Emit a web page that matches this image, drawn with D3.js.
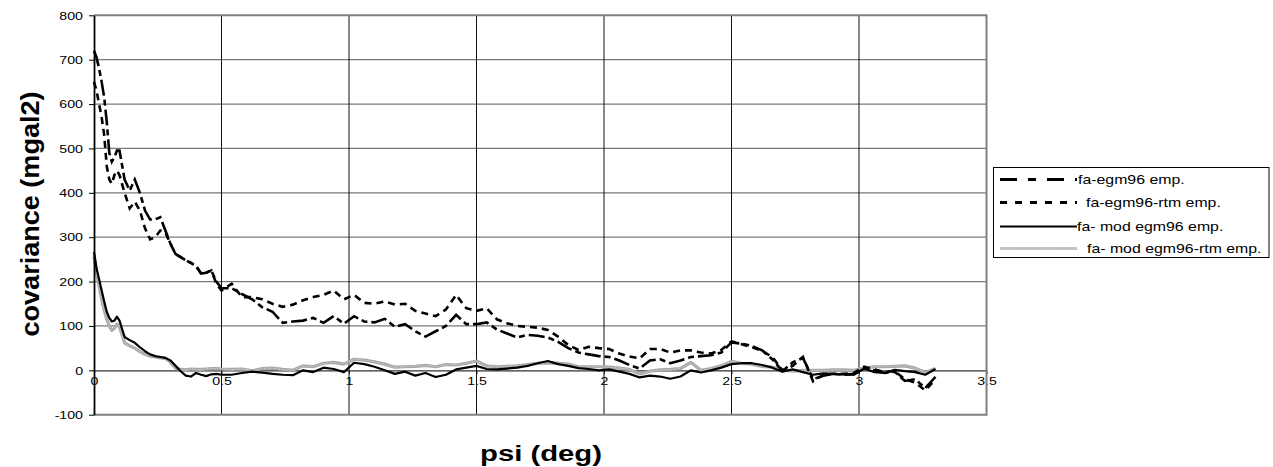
<!DOCTYPE html>
<html><head><meta charset="utf-8">
<script src="https://cdn.jsdelivr.net/npm/d3@7"></script>
<style>html,body{margin:0;padding:0;background:#fff;}svg{display:block;}</style>
</head><body>
<script>
// ---------- data ----------
const psi = [0,0.01,0.02,0.03,0.04,0.05,0.06,0.07,0.08,0.09,
  0.10,0.12,0.14,0.16,0.18,0.20,0.22,0.24,0.26,0.28,0.30,0.32,0.34,0.36,0.38,0.40,0.42,0.44,0.46,0.48,0.50,
  0.54,0.58,0.62,0.66,0.70,0.74,0.78,0.82,0.86,0.90,0.94,0.98,
  1.02,1.06,1.10,1.14,1.18,1.22,1.26,1.30,1.34,1.38,1.42,1.46,1.50,
  1.54,1.58,1.62,1.66,1.70,1.74,1.78,1.82,1.86,1.90,1.94,1.98,
  2.02,2.06,2.10,2.14,2.18,2.22,2.26,2.30,2.34,2.38,2.42,2.46,2.50,
  2.54,2.58,2.62,2.66,2.70,2.74,2.78,2.82,2.86,2.90,2.94,2.98,
  3.02,3.06,3.10,3.14,3.18,3.22,3.26,3.30];

const faEgm96 = [720,705,680,650,615,560,490,470,480,495,
  495,430,405,430,400,360,340,340,345,315,285,262,255,248,242,235,218,220,225,200,185,
  185,172,160,142,132,107,110,112,118,107,122,105,
  122,110,108,116,98,104,88,76,88,100,125,104,104,
  108,92,83,74,80,78,74,64,50,40,36,32,
  30,22,12,4,22,25,16,22,30,32,34,40,63,
  60,55,45,25,-2,18,28,-20,-12,-8,-10,-8,
  5,0,-6,-3,-24,-20,-40,-15];

const faEgm96Rtm = [650,630,600,570,530,460,430,420,440,450,
  440,400,365,380,360,320,295,300,315,310,285,262,255,248,242,235,218,220,225,195,180,
  195,165,165,160,150,143,148,158,165,170,180,160,
  170,152,150,155,148,150,134,128,122,137,170,140,134,
  140,115,106,100,98,96,91,76,57,46,53,50,
  48,38,31,27,48,48,40,45,45,40,38,46,65,
  59,52,44,30,0,10,30,-25,-10,-8,-8,-6,
  8,2,-4,-2,-20,-28,-45,-20];

const faModEgm96 = [267,230,205,180,155,132,118,110,112,121,
  112,75,68,62,52,43,36,32,30,28,22,10,-2,-12,-14,-6,-10,-13,-9,-8,-10,
  -10,-6,-3,-5,-8,-10,-11,0,-4,6,3,-4,
  17,14,8,0,-8,-3,-12,-6,-15,-10,2,6,10,
  3,2,4,6,10,16,21,14,10,5,3,0,
  2,-3,-8,-16,-12,-14,-19,-14,0,-5,0,6,14,
  16,16,12,6,-3,2,-4,-10,-7,-8,-9,-10,
  4,-4,-6,1,-2,-4,-10,3];

const faModEgm96Rtm = [256,220,190,160,135,115,100,90,95,104,
  98,62,55,50,42,36,32,30,28,27,18,5,2,1,3,2,2,3,4,4,3,
  2,3,-1,4,5,2,0,10,8,16,18,14,
  25,23,19,14,7,8,9,11,8,13,12,16,21,
  10,8,9,10,13,16,17,16,14,8,8,8,
  7,5,2,-8,-2,1,2,4,18,0,4,10,20,
  16,14,9,7,1,-2,0,0,0,1,1,0,
  5,8,8,9,10,5,-5,4];

const seriesNames = ["fa-egm96 emp.", "fa-egm96-rtm emp.", "fa- mod egm96 emp.", "fa- mod egm96-rtm emp."];
const yTicks = [-100,0,100,200,300,400,500,600,700,800];
const xTicks = [0,0.5,1,1.5,2,2.5,3,3.5];
const xTitle = "psi (deg)";
const yTitle = "covariance (mgal2)";

// ---------- layout ----------
const W = 1273, H = 467;
const L = 94, R = 986.5, T = 15.3, B = 414.7;
const x = d3.scaleLinear().domain([0, 3.5]).range([L, R]);
const y = d3.scaleLinear().domain([-100, 800]).range([B, T]);
const FONT = "'Liberation Sans', Arial, sans-serif";
const SX = 1.35;

const svg = d3.select("body").append("svg").attr("width", W).attr("height", H);
svg.append("rect").attr("width", W).attr("height", H).attr("fill", "#fff");

// horizontal gridlines
svg.append("g").selectAll("line").data(yTicks.filter(d => d !== 0 && d !== -100 && d !== 800)).join("line")
  .attr("x1", L).attr("x2", R).attr("y1", d => y(d)).attr("y2", d => y(d))
  .attr("stroke", "#7a7a7a").attr("stroke-width", 1.2);

// x axis at value 0
const xAxis = svg.append("g").attr("transform", `translate(0,${y(0)})`)
  .call(d3.axisBottom(x).tickValues(xTicks).tickSize(4).tickSizeOuter(0).tickFormat(d => String(d)));
xAxis.select(".domain").attr("stroke", "#333").attr("stroke-width", 1.3);
xAxis.selectAll(".tick line").attr("stroke", "#333");
xAxis.selectAll(".tick text")
  .attr("font-family", FONT).attr("font-size", 10.5).attr("fill", "#000")
  .attr("y", 14.5).attr("dy", null).attr("x", 0)
  .attr("transform", `scale(${SX},1)`);

// vertical gridlines
svg.append("g").selectAll("line").data(xTicks.filter(d => d > 0 && d < 3.5)).join("line")
  .attr("x1", d => x(d)).attr("x2", d => x(d)).attr("y1", T).attr("y2", B)
  .attr("stroke", "#111").attr("stroke-width", 1);

// plot frame (top, right, bottom)
svg.append("path")
  .attr("d", `M${L},${y(800)}H${R}V${y(-100)}H${L}`)
  .attr("fill", "none").attr("stroke", "#808080").attr("stroke-width", 2);

// series
const line = vals => d3.line().x((d, i) => x(psi[i])).y(d => y(d))(vals);
const g = svg.append("g");
g.append("path").attr("d", line(faModEgm96Rtm)).attr("fill", "none")
  .attr("stroke", "#a6a6a6").attr("stroke-width", 3.2).attr("stroke-linejoin", "round");
g.append("path").attr("d", line(faModEgm96Rtm)).attr("fill", "none")
  .attr("stroke", "#e2e2e2").attr("stroke-width", 1).attr("stroke-dasharray", "1,1.5");
g.append("path").attr("d", line(faModEgm96)).attr("fill", "none")
  .attr("stroke", "#000").attr("stroke-width", 2.2).attr("stroke-linejoin", "round");
g.append("path").attr("d", line(faEgm96Rtm)).attr("fill", "none")
  .attr("stroke", "#000").attr("stroke-width", 2.6).attr("stroke-dasharray", "7,5");
g.append("path").attr("d", line(faEgm96)).attr("fill", "none")
  .attr("stroke", "#000").attr("stroke-width", 2.6).attr("stroke-dasharray", "16,4,6,4");

// y axis
const yAxis = svg.append("g").attr("transform", `translate(${L},0)`)
  .call(d3.axisLeft(y).tickValues(yTicks).tickSize(5).tickSizeOuter(0).tickFormat(d => String(d)));
yAxis.select(".domain").attr("stroke", "#000").attr("stroke-width", 1.8);
yAxis.selectAll(".tick line").attr("stroke", "#000");
yAxis.selectAll(".tick text")
  .attr("font-family", FONT).attr("font-size", 10.5).attr("fill", "#000")
  .attr("x", -11 / SX).attr("dy", "0.36em")
  .attr("transform", `scale(${SX},1)`);

// axis titles
svg.append("text").text(xTitle)
  .attr("x", 541).attr("y", 460.5).attr("text-anchor", "middle")
  .attr("font-family", FONT).attr("font-weight", "bold").attr("font-size", 22)
  .attr("textLength", 122).attr("lengthAdjust", "spacingAndGlyphs");
svg.append("text").text(yTitle)
  .attr("transform", "translate(38.5,214) rotate(-90)").attr("text-anchor", "middle")
  .attr("font-family", FONT).attr("font-weight", "bold").attr("font-size", 26)
  .attr("textLength", 245).attr("lengthAdjust", "spacingAndGlyphs");

// legend
const leg = svg.append("g");
leg.append("rect").attr("x", 993.5).attr("y", 167.5).attr("width", 275.5).attr("height", 90)
  .attr("fill", "#fff").attr("stroke", "#000").attr("stroke-width", 1);
const legY = [179.5, 202.5, 226.5, 248.5];
const legTx = [1078, 1086, 1077, 1087];
const legStyles = [
  {stroke: "#000", w: 3, dash: "17,11,8,11"},
  {stroke: "#000", w: 3, dash: "7,8"},
  {stroke: "#000", w: 2, dash: null},
  {stroke: "#b0b0b0", w: 2.5, dash: null}
];
seriesNames.forEach((name, i) => {
  const s = legStyles[i];
  leg.append("line").attr("x1", 1000).attr("x2", 1077).attr("y1", legY[i]).attr("y2", legY[i])
    .attr("stroke", s.stroke).attr("stroke-width", s.w).attr("stroke-dasharray", s.dash);
  if (i === 3) {
    leg.append("line").attr("x1", 1000).attr("x2", 1077).attr("y1", legY[i]).attr("y2", legY[i])
      .attr("stroke", "#e6e6e6").attr("stroke-width", 0.8).attr("stroke-dasharray", "1,1.5");
  }
  leg.append("text").text(name)
    .attr("transform", `translate(${legTx[i]},${legY[i] + 4.5}) scale(1.22,1)`)
    .attr("font-family", FONT).attr("font-size", 13).attr("fill", "#000");
});
</script>
</body></html>
